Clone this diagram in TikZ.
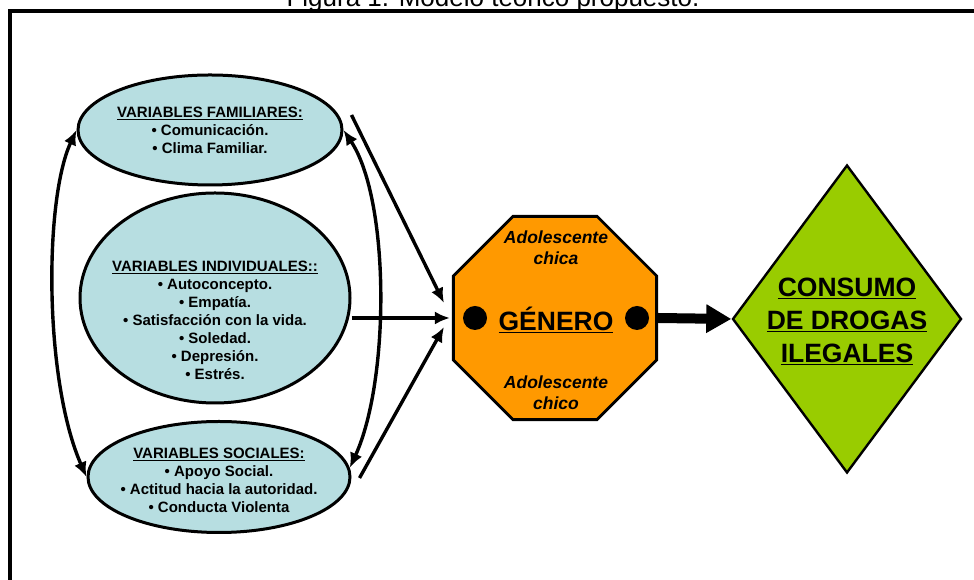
\documentclass[tikz,border=0pt]{standalone}
\usepackage{fontspec}
\setmainfont{Liberation Sans}
\usetikzlibrary{shapes.geometric,arrows.meta}
\definecolor{celeste}{RGB}{183,222,225}
\definecolor{naranja}{RGB}{255,153,0}
\definecolor{verde}{RGB}{153,204,0}
\tikzset{
  var/.style={ellipse,draw,line width=3pt,fill=celeste,inner sep=0pt},
  vartxt/.style={font=\bfseries\fontsize{15}{18}\selectfont,align=center,inner sep=0pt},
  gentxt/.style={font=\bfseries\itshape\fontsize{17.5}{21}\selectfont,align=center,inner sep=0pt},
  flecha/.style={line width=3.4pt,-{Latex[length=15pt,width=13pt]}},
  doble/.style={line width=3.4pt,{Latex[length=15pt,width=13pt]}-{Latex[length=15pt,width=13pt]}},
  punto/.style={circle,fill=black,minimum size=24pt,inner sep=0pt}
}
\begin{document}
\begin{tikzpicture}[x=1pt,y=1pt]
	\clip (0,0) rectangle (974,580);
	\node[anchor=base,font=\fontsize{26}{30}\selectfont] (titulo) at (493,573) {Figura 1. Modelo teórico propuesto.};
	\draw[line width=4pt] (990,568.5) -| (10,-10);
	\node[var,minimum width=264pt,minimum height=110pt] (fam) at (210,450) {};
	\node[var,minimum width=270pt,minimum height=210pt] (ind) at (215,282) {};
	\node[var,minimum width=262pt,minimum height=111pt] (soc) at (219,103) {};
	\node[regular polygon,regular polygon sides=8,draw,line width=2.8pt,fill=naranja,minimum size=220pt,inner sep=0pt] (gen) at (555,262) {};
	\node[diamond,draw,line width=2.4pt,fill=verde,minimum width=229pt,minimum height=308pt,inner sep=0pt] (con) at (847,261) {};
	\node[vartxt] (famtxt) at (210,450) {\underline{VARIABLES FAMILIARES:}\\• Comunicación.\\• Clima Familiar.};
	\node[vartxt] (indtxt) at (215,260) {\underline{VARIABLES INDIVIDUALES::}\\• Autoconcepto.\\• Empatía.\\• Satisfacción con la vida.\\• Soledad.\\• Depresión.\\• Estrés.};
	\node[vartxt] (soctxt) at (219,100) {\underline{VARIABLES SOCIALES:}\\• Apoyo Social.\\• Actitud hacia la autoridad.\\• Conducta Violenta};
	\node[gentxt] (chica) at (556,332) {Adolescente\\chica};
	\node[font=\bfseries\fontsize{26.5}{30}\selectfont,inner sep=0pt] (genero) at (556,260) {\underline{GÉNERO}};
	\node[gentxt] (chico) at (556,187) {Adolescente\\chico};
	\foreach \x/\n in {475/ptoizq,637/ptoder}
		\node[punto] (\n) at (\x,262) {};
	\node[font=\bfseries\fontsize{26.5}{33}\selectfont,align=center,inner sep=0pt] (contxt) at (847,259) {\underline{CONSUMO}\\\underline{DE DROGAS}\\\underline{ILEGALES}};
	\coordinate (famsal) at ([shift={(8,15)}]fam.east);
	\coordinate (indsal) at (ind.east |- gen.west);
	\coordinate (socsal) at ([shift={(8,-1)}]soc.east);
	\draw[doble] (fam.west) .. controls (44,380) and (44,200) .. (soc.west);
	\draw[doble] (fam.east) .. controls (390,380) and (390,200) .. (soc.4);
	\draw[flecha] (famsal) -- ([shift={(-8,15)}]gen.west);
	\draw[flecha] (indsal) -- ([xshift=-2]gen.west);
	\draw[flecha] (socsal) -- ([shift={(-8,-9)}]gen.west);
	\draw[line width=10pt,-{Triangle[length=25pt,width=27pt]}] (gen.east) -- (con.west);
\end{tikzpicture}
\end{document}
